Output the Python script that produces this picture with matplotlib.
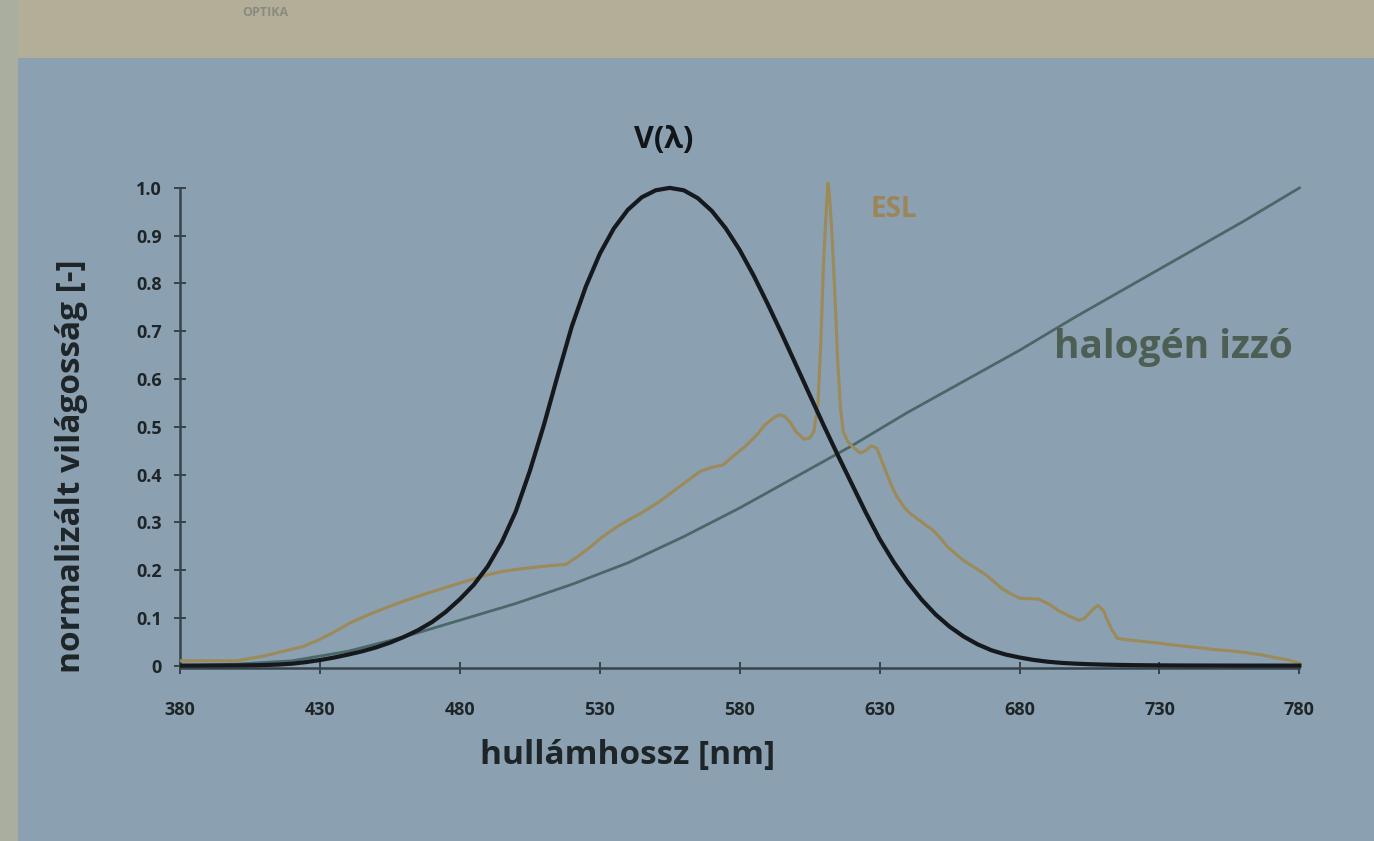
import matplotlib
matplotlib.use("Agg")
import matplotlib.pyplot as plt
from matplotlib.patches import Rectangle

# ---- data ----
v_nm = [380, 385, 390, 395, 400, 405, 410, 415, 420, 425, 430, 435, 440, 445, 450, 455,
        460, 465, 470, 475, 480, 485, 490, 495, 500, 505, 510, 515, 520, 525, 530, 535,
        540, 545, 550, 555, 560, 565, 570, 575, 580, 585, 590, 595, 600, 605, 610, 615,
        620, 625, 630, 635, 640, 645, 650, 655, 660, 665, 670, 675, 680, 685, 690, 695,
        700, 705, 710, 715, 720, 730, 740, 750, 760, 770, 780]
v_val = [0.00004, 0.00006, 0.00012, 0.00022, 0.0004, 0.00064, 0.0012, 0.0022, 0.004,
         0.0073, 0.0116, 0.0168, 0.023, 0.0298, 0.038, 0.048, 0.06, 0.0739, 0.091, 0.1126,
         0.139, 0.1693, 0.208, 0.2586, 0.323, 0.4073, 0.503, 0.6082, 0.71, 0.7932, 0.862,
         0.9149, 0.954, 0.9803, 0.995, 1.0, 0.995, 0.9786, 0.952, 0.9154, 0.87, 0.8163,
         0.757, 0.6949, 0.631, 0.5668, 0.503, 0.4412, 0.381, 0.321, 0.265, 0.217, 0.175,
         0.1382, 0.107, 0.0816, 0.061, 0.0446, 0.032, 0.0232, 0.017, 0.0119, 0.0082,
         0.0057, 0.0041, 0.0029, 0.0021, 0.0015, 0.001, 0.0005, 0.00025, 0.00012, 0.00006,
         0.00003, 0.000015]

esl_nm = [380, 400, 410, 417, 424, 430, 435, 441, 448, 454, 460, 466, 472, 478, 484, 490,
          495, 501, 507, 512, 518, 522, 527, 531, 536, 540, 545, 551, 557, 562, 566, 570,
          574, 578, 582, 586, 589, 592, 594, 596, 598, 600, 603, 605, 606.5, 608, 609,
          610, 611, 611.5, 612, 613, 614, 615, 616, 617, 618.5, 620, 623, 625, 627, 629,
          630, 632, 634, 636, 639, 641, 644, 647, 649, 652, 654, 657, 660, 664, 668, 671,
          674, 677, 680, 684, 687, 691, 694, 698, 701, 703, 705, 707, 708, 710, 711, 713,
          715, 720, 725, 730, 735, 740, 745, 749, 755, 760, 766, 772, 776, 780]
esl_val = [0.01, 0.01, 0.02, 0.03, 0.04, 0.055, 0.07, 0.09, 0.108, 0.122, 0.135, 0.147,
           0.158, 0.169, 0.18, 0.19, 0.197, 0.202, 0.206, 0.209, 0.212, 0.228, 0.25, 0.27,
           0.29, 0.304, 0.32, 0.342, 0.368, 0.39, 0.407, 0.415, 0.42, 0.44, 0.459, 0.482,
           0.504, 0.518, 0.525, 0.522, 0.51, 0.49, 0.474, 0.476, 0.49, 0.55, 0.68, 0.85,
           0.96, 1.01, 0.99, 0.9, 0.78, 0.64, 0.54, 0.49, 0.47, 0.46, 0.445, 0.45, 0.46,
           0.455, 0.44, 0.41, 0.38, 0.355, 0.33, 0.318, 0.305, 0.292, 0.284, 0.265, 0.25,
           0.235, 0.22, 0.205, 0.19, 0.175, 0.16, 0.15, 0.141, 0.14, 0.139, 0.127, 0.115,
           0.103, 0.095, 0.098, 0.11, 0.122, 0.126, 0.115, 0.1, 0.075, 0.057, 0.053, 0.05,
           0.047, 0.043, 0.04, 0.037, 0.034, 0.031, 0.028, 0.023, 0.016, 0.012, 0.005]

hal_nm = [380, 400, 420, 440, 460, 480, 500, 520, 540, 560, 580, 600, 620, 640, 660, 680,
          700, 730, 760, 780]
hal_val = [0.0, 0.003, 0.01, 0.03, 0.06, 0.095, 0.13, 0.17, 0.215, 0.27, 0.33, 0.395,
           0.46, 0.53, 0.595, 0.66, 0.73, 0.83, 0.93, 1.0]

x_ticks = [380, 430, 480, 530, 580, 630, 680, 730, 780]
y_ticks = [0, 0.1, 0.2, 0.3, 0.4, 0.5, 0.6, 0.7, 0.8, 0.9, 1.0]
y_tick_labels = ["0", "0.1", "0.2", "0.3", "0.4", "0.5", "0.6", "0.7", "0.8", "0.9", "1.0"]

# ---- figure ----
W, H = 1374, 841
panel = "#8ba0b0"
fig = plt.figure(figsize=(W / 100, H / 100), dpi=100, facecolor=panel)

# beige paper strip at top and left
fig.patches.append(Rectangle((0, 1 - 58 / H), 1, 58 / H, transform=fig.transFigure,
                             facecolor="#b2ae97", edgecolor="none", zorder=0))
fig.patches.append(Rectangle((0, 0), 18 / W, 1, transform=fig.transFigure,
                             facecolor="#aaae9f", edgecolor="none", zorder=0))
fig.text(265 / W, 1 - 12 / H, "OPTIKA", fontsize=9, color="#8a8a80", ha="center",
         va="center", family="Open Sans", fontweight="bold")

ax = fig.add_axes([180 / W, (H - 668) / H, (1305 - 180) / W, 504 / H])
ax.set_facecolor("none")

axis_col = "#36434a"
ax.plot(hal_nm, hal_val, color="#4a6869", lw=2.0, zorder=2)
ax.plot(esl_nm, esl_val, color="#9c8a58", lw=2.2, zorder=3)
ax.plot(v_nm, v_val, color="#15191d", lw=3.0, zorder=4)

ax.set_xlim(380, 782)
ax.set_ylim(-0.005, 1.05)
for s in ("top", "right"):
    ax.spines[s].set_visible(False)
for s in ("left", "bottom"):
    ax.spines[s].set_color(axis_col)
    ax.spines[s].set_linewidth(1.8)
ax.spines["left"].set_bounds(0, 1.0)
ax.spines["bottom"].set_bounds(380, 780)

ax.set_xticks(x_ticks)
ax.set_xticklabels([str(t) for t in x_ticks])
ax.set_yticks(y_ticks)
ax.set_yticklabels(y_tick_labels)
ax.tick_params(axis="both", direction="inout", length=8, width=1.4, color=axis_col,
               labelcolor="#1e2528", labelsize=13)
ax.tick_params(axis="x", pad=20)
ax.tick_params(axis="y", pad=9)
for lab in ax.get_xticklabels() + ax.get_yticklabels():
    lab.set_fontweight("bold")
    lab.set_family("Open Sans")

ax.set_xlabel("hullámhossz [nm]", fontsize=24, fontweight="bold", color="#1e2528",
              family="Open Sans")
ax.xaxis.set_label_coords(0.398, -0.14)
ax.set_ylabel("normalizált világosság [-]", fontsize=24, fontweight="bold",
              color="#1e2528", family="Open Sans")
ax.yaxis.set_label_coords(-0.082, 0.40)

ax.text(553, 1.1, "V(λ)", fontsize=22, color="#111418", ha="center", va="center",
        family="Open Sans", fontweight="bold")
ax.text(635, 0.955, "ESL", fontsize=20, color="#9c8658", ha="center", va="center",
        fontweight="bold", family="Open Sans")
ax.text(735, 0.665, "halogén izzó", fontsize=28, color="#4d5f55", ha="center",
        va="center", fontweight="bold", family="Open Sans")

fig.savefig("out.png", dpi=100, facecolor=fig.get_facecolor())
